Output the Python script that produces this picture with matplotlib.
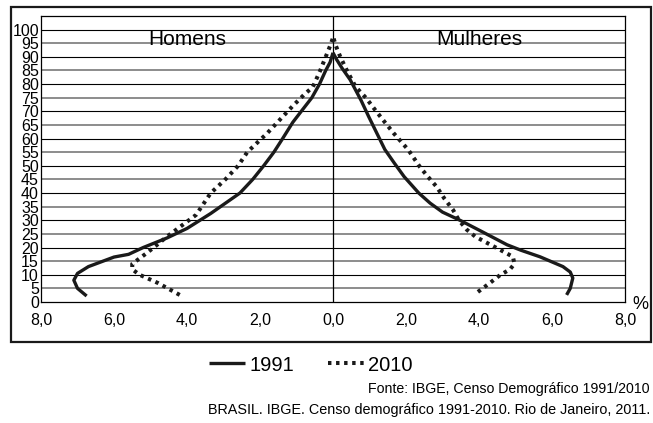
import matplotlib
matplotlib.use("Agg")
import matplotlib.pyplot as plt
from matplotlib.patches import Rectangle

plt.rcParams["font.family"] = ["Liberation Sans", "DejaVu Sans"]

# ── Data (percent of population) ───────────────────────────────────────────
men_1991_age = [2.2, 5, 8, 10.5, 13, 15, 16.5, 17.5, 20, 23.5, 27, 32.5, 40,
                45, 50, 55, 60, 66, 70, 75, 80, 85, 88, 91.5]
men_1991_pct = [6.75, 7.0, 7.1, 7.0, 6.7, 6.3, 6.0, 5.6, 5.2, 4.55, 4.0, 3.35,
                2.55, 2.2, 1.9, 1.62, 1.38, 1.1, 0.87, 0.58, 0.37, 0.2, 0.08, 0.0]

men_2010_age = [2.6, 7, 10, 12, 14, 18, 21, 24, 27.5, 32, 36, 40, 45, 50, 55,
                62, 67, 72, 76, 79, 85, 90, 94, 97]
men_2010_pct = [4.2, 4.8, 5.3, 5.5, 5.5, 5.1, 4.82, 4.55, 4.2, 3.75, 3.55, 3.35,
                2.95, 2.6, 2.35, 1.8, 1.45, 1.1, 0.8, 0.55, 0.35, 0.2, 0.08, 0.0]

women_1991_age = [2.6, 5, 8.8, 11, 13, 15, 16.6, 19, 21, 25.7, 30, 33, 36.3,
                  40, 46, 51, 56, 62, 68, 74, 81.6, 86, 89, 91.5]
women_1991_pct = [6.4, 6.5, 6.57, 6.5, 6.3, 5.95, 5.67, 5.15, 4.77, 4.1, 3.48,
                  3.0, 2.66, 2.35, 1.95, 1.68, 1.42, 1.2, 0.98, 0.77, 0.47,
                  0.24, 0.1, 0.0]

women_2010_age = [3.7, 7, 9.9, 12, 14, 16.6, 19, 21.7, 24, 26.5, 30, 33.8, 38,
                  42.3, 46, 49.6, 55.9, 62, 66, 70.6, 75, 79, 85, 90, 94, 97.5]
women_2010_pct = [3.97, 4.3, 4.58, 4.85, 4.97, 4.93, 4.6, 4.22, 3.9, 3.67, 3.45,
                  3.29, 3.05, 2.84, 2.6, 2.38, 2.06, 1.66, 1.42, 1.15, 0.9, 0.62,
                  0.38, 0.2, 0.08, 0.0]

age_ticks = list(range(0, 101, 5))
x_ticks = [-8, -6, -4, -2, 0, 2, 4, 6, 8]
x_tick_labels = ["8,0", "6,0", "4,0", "2,0", "0,0", "2,0", "4,0", "6,0", "8,0"]

DOT = (0, (0.85, 1.15))
DOT_LW = 2.9
SOLID_LW = 2.4

fig = plt.figure(figsize=(6.53, 4.23), dpi=100)
ax = fig.add_axes([41 / 653, 121 / 423, 584 / 653, 286 / 423])

# grid: black at multiples of 10, grey at the odd fives
for a in age_ticks[1:]:
    if a % 10 == 0:
        ax.axhline(a, color="black", lw=0.8, zorder=1)
    else:
        ax.axhline(a, color="#8c8c8c", lw=1.4, zorder=1)
ax.axvline(0, color="black", lw=0.9, zorder=1)

sol, = ax.plot([-v for v in men_1991_pct], men_1991_age, color="#1a1a1a",
               lw=SOLID_LW, solid_capstyle="butt", zorder=3, label="1991")
dot, = ax.plot([-v for v in men_2010_pct], men_2010_age, color="#1a1a1a",
               lw=DOT_LW, linestyle=DOT, dash_capstyle="butt", zorder=3,
               label="2010")
ax.plot(women_1991_pct, women_1991_age, color="#1a1a1a", lw=SOLID_LW,
        solid_capstyle="butt", zorder=3)
ax.plot(women_2010_pct, women_2010_age, color="#1a1a1a", lw=DOT_LW,
        linestyle=DOT, dash_capstyle="butt", zorder=3)

ax.set_xlim(-8, 8)
ax.set_ylim(0, 105)
ax.set_xticks(x_ticks)
ax.set_xticklabels(x_tick_labels, fontsize=11.5)
ax.set_yticks(age_ticks)
ax.set_yticklabels([str(a) for a in age_ticks], fontsize=11.5)
ax.tick_params(axis="x", length=0, pad=8)
ax.tick_params(axis="y", length=0, pad=1.5)
for s in ax.spines.values():
    s.set_linewidth(0.9)

ax.text(-4.0, 96.3, "Homens", ha="center", va="center", fontsize=15)
ax.text(4.0, 96.3, "Mulheres", ha="center", va="center", fontsize=15)

fig.text(640 / 653, 1 - 304 / 423, "%", ha="center", va="center", fontsize=13)

# outer frame
fig.patches.append(Rectangle((11 / 653, 81 / 423), 640 / 653, 335 / 423,
                             transform=fig.transFigure, fill=False,
                             edgecolor="#1a1a1a", lw=1.6))

fig.legend(handles=[sol, dot], loc="center", bbox_to_anchor=(0.476, 1 - 365 / 423),
           ncol=2, frameon=False, fontsize=14.5, handlelength=1.8,
           handletextpad=0.2, columnspacing=1.7)

fig.text(650 / 653, 1 - 389 / 423, "Fonte: IBGE, Censo Demográfico 1991/2010",
         ha="right", va="center", fontsize=10.2)
fig.text(650 / 653, 1 - 410 / 423,
         "BRASIL. IBGE. Censo demográfico 1991-2010. Rio de Janeiro, 2011.",
         ha="right", va="center", fontsize=10.4)

fig.savefig("out.png", dpi=100, facecolor="white")
